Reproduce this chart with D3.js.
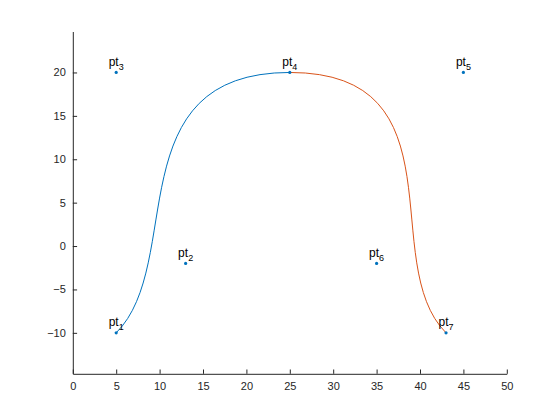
<!DOCTYPE html>
<html>
<head>
<meta charset="utf-8">
<script src="https://cdn.jsdelivr.net/npm/d3@7"></script>
<style>
body { margin: 0; background: #fff; }
svg { display: block; }
text { font-family: "Liberation Sans", Arial, Helvetica, sans-serif; }
</style>
</head>
<body>
<script>
// Control points
const ptNames = ["1", "2", "3", "4", "5", "6", "7"];
const ptX = [5, 13, 5, 25, 45, 35, 43];
const ptY = [-10, -2, 20, 20, 20, -2, -10];
// Bezier segments (indices into points)
const segments = [[0, 1, 2, 3], [3, 4, 5, 6]];
const segColors = ["#0072BD", "#D95319"];
const xTicks = [0, 5, 10, 15, 20, 25, 30, 35, 40, 45, 50];
const yTicks = [-10, -5, 0, 5, 10, 15, 20];
const xDomain = [0, 50];
const yDomain = [-14.72, 24.72];

const W = 560, H = 420;
const mLeft = 72.8, mTop = 31.5, pw = 434, ph = 342.3;

const svg = d3.select("body").append("svg").attr("width", W).attr("height", H);
const x = d3.scaleLinear().domain(xDomain).range([mLeft, mLeft + pw]);
const y = d3.scaleLinear().domain(yDomain).range([mTop + ph, mTop]);

const axisColor = "#262626";

// x axis
const gx = svg.append("g").attr("transform", `translate(0,${mTop + ph})`)
  .call(d3.axisBottom(x).tickValues(xTicks).tickSizeInner(-4.3).tickSizeOuter(0).tickPadding(8));
// y axis
const gy = svg.append("g").attr("transform", `translate(${mLeft},0)`)
  .call(d3.axisLeft(y).tickValues(yTicks).tickSizeInner(-4.3).tickSizeOuter(0).tickPadding(7));
[gx, gy].forEach(g => {
  g.select(".domain").attr("stroke", axisColor).attr("stroke-width", 1);
  g.selectAll(".tick line").attr("stroke", axisColor);
  g.selectAll(".tick text").attr("fill", axisColor).attr("font-size", 11)
    .attr("font-family", "'Liberation Sans', Arial, Helvetica, sans-serif");
});

// curves
segments.forEach((s, i) => {
  const p = d3.path();
  p.moveTo(x(ptX[s[0]]), y(ptY[s[0]]));
  p.bezierCurveTo(x(ptX[s[1]]), y(ptY[s[1]]), x(ptX[s[2]]), y(ptY[s[2]]), x(ptX[s[3]]), y(ptY[s[3]]));
  svg.append("path").attr("d", p.toString()).attr("fill", "none")
    .attr("stroke", segColors[i]).attr("stroke-width", 1);
});

// points
svg.append("g").selectAll("circle").data(ptX).join("circle")
  .attr("cx", (d) => x(d)).attr("cy", (d, i) => y(ptY[i])).attr("r", 1.6)
  .attr("fill", "#0072BD");

// labels
const lab = svg.append("g").selectAll("text").data(ptNames).join("text")
  .attr("x", (d, i) => x(ptX[i])).attr("y", (d, i) => y(ptY[i]) - 6.5)
  .attr("text-anchor", "middle").attr("font-size", 12).attr("fill", "#000");
lab.append("tspan").text("pt");
lab.append("tspan").attr("dy", 4).attr("font-size", 9).text(d => d);
</script>
</body>
</html>
